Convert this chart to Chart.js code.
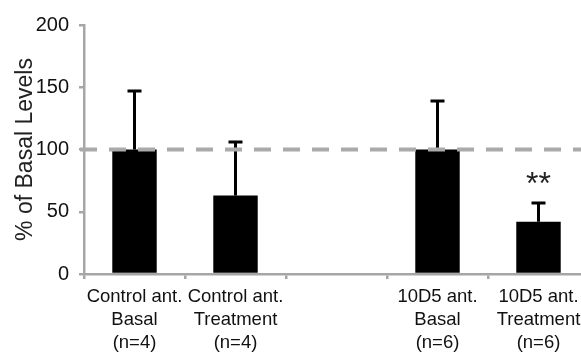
<!DOCTYPE html>
<html>
<head>
<meta charset="utf-8">
<script src="https://cdn.jsdelivr.net/npm/chart.js@4"></script>
<style>
  html, body { margin: 0; padding: 0; background: #fff; overflow: hidden; }
  #wrap { width: 600px; height: 354px; }
</style>
</head>
<body>
<div id="wrap"><canvas id="chart" width="600" height="354"></canvas></div>
<script>
  // données
  const categories = [
    ['Control ant.', 'Basal', '(n=4)'],
    ['Control ant.', 'Treatment', '(n=4)'],
    '',
    ['10D5 ant.', 'Basal', '(n=6)'],
    ['10D5 ant.', 'Treatment', '(n=6)']
  ];
  const means = [100, 63, null, 100, 42];
  const errorTops = [147, 106, null, 139, 57];
  const significance = ['', '', '', '', '**'];
  const yTicks = [0, 50, 100, 150, 200];
  const baseline = 100;

  const font = '"Liberation Sans", Arial, sans-serif';
  const axisGray = '#a6a6a6';

  // barres d'erreur (vers le haut seulement) + étoiles
  const errorBars = {
    id: 'errorBars',
    afterDatasetsDraw(chart) {
      const ctx = chart.ctx;
      const meta = chart.getDatasetMeta(0);
      const y = chart.scales.y;
      ctx.save();
      ctx.strokeStyle = '#000';
      ctx.lineWidth = 3;
      meta.data.forEach((bar, i) => {
        if (means[i] == null) return;
        const yTop = y.getPixelForValue(errorTops[i]);
        const yBar = y.getPixelForValue(means[i]);
        ctx.beginPath();
        ctx.moveTo(bar.x, yBar);
        ctx.lineTo(bar.x, yTop);
        ctx.moveTo(bar.x - 7, yTop);
        ctx.lineTo(bar.x + 7, yTop);
        ctx.stroke();
        if (significance[i]) {
          ctx.fillStyle = '#222';
          ctx.font = '32px ' + font;
          ctx.textAlign = 'center';
          ctx.textBaseline = 'alphabetic';
          ctx.fillText(significance[i], bar.x, yTop - 9);
        }
      });
      ctx.restore();
    }
  };

  // ligne pointillée à 100 %
  const baselinePlugin = {
    id: 'baselineLine',
    afterDraw(chart) {
      const ctx = chart.ctx;
      const area = chart.chartArea;
      const yy = chart.scales.y.getPixelForValue(baseline);
      ctx.save();
      ctx.strokeStyle = '#aaaaaa';
      ctx.lineWidth = 4;
      ctx.setLineDash([17, 12]);
      ctx.beginPath();
      ctx.moveTo(area.left - 4, yy);
      ctx.lineTo(area.right, yy);
      ctx.stroke();
      ctx.restore();
    }
  };

  new Chart(document.getElementById('chart'), {
    type: 'bar',
    data: {
      labels: categories,
      datasets: [{
        data: means,
        backgroundColor: '#000',
        borderWidth: 0,
        barPercentage: 0.44,
        categoryPercentage: 1
      }]
    },
    options: {
      responsive: false,
      animation: false,
      layout: { padding: { left: 12, top: 25, right: 11, bottom: 0 } },
      plugins: { legend: { display: false }, tooltip: { enabled: false } },
      scales: {
        x: {
          grid: { display: true, drawOnChartArea: false, drawTicks: true, tickLength: 5, color: axisGray, lineWidth: 2.5, offset: true },
          border: { display: true, color: axisGray, width: 2.5 },
          ticks: {
            color: '#111', autoSkip: false, maxRotation: 0, minRotation: 0, padding: 6,
            font: { family: font, size: 18.5, lineHeight: 1.25 }
          },
          afterFit(scale) { scale.height = 80; }
        },
        y: {
          min: 0, max: 200,
          afterBuildTicks(scale) { scale.ticks = yTicks.map(v => ({ value: v })); },
          grid: { display: true, drawOnChartArea: false, drawTicks: true, tickLength: 5, color: axisGray, lineWidth: 2.5 },
          border: { display: true, color: axisGray, width: 2.5 },
          ticks: { color: '#111', padding: 10, font: { family: font, size: 20 } },
          title: {
            display: true, text: '% of Basal Levels', color: '#222',
            font: { family: font, size: 23 }, padding: { top: 0, bottom: 0 }
          },
          afterFit(scale) { scale.width = 72; }
        }
      }
    },
    plugins: [errorBars, baselinePlugin]
  });
</script>
</body>
</html>
